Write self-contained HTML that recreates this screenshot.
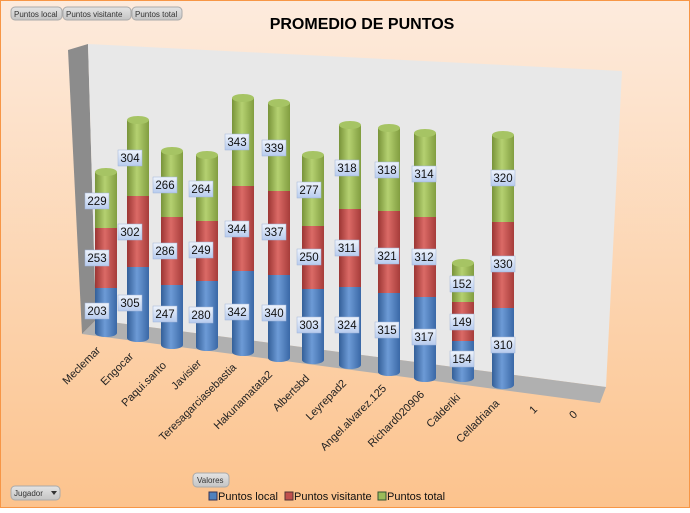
<!DOCTYPE html>
<html><head><meta charset="utf-8"><style>
body{margin:0;width:690px;height:508px;overflow:hidden;font-family:"Liberation Sans",sans-serif}
</style></head><body>
<svg width="690" height="508" xmlns="http://www.w3.org/2000/svg" font-family="Liberation Sans, sans-serif">
<defs>
<linearGradient id="bg" x1="0" y1="0" x2="0" y2="1"><stop offset="0" stop-color="#fdebdd"/><stop offset="1" stop-color="#fcc38d"/></linearGradient>
<linearGradient id="gb" x1="0" x2="1"><stop offset="0" stop-color="#335f98"/><stop offset=".45" stop-color="#6d9bd6"/><stop offset="1" stop-color="#3a68a6"/></linearGradient>
<linearGradient id="gr" x1="0" x2="1"><stop offset="0" stop-color="#9b3533"/><stop offset=".45" stop-color="#db6a66"/><stop offset="1" stop-color="#a63c3a"/></linearGradient>
<linearGradient id="gg" x1="0" x2="1"><stop offset="0" stop-color="#789339"/><stop offset=".45" stop-color="#b5d171"/><stop offset="1" stop-color="#819d40"/></linearGradient>
<linearGradient id="lb" x1="0" y1="0" x2="0" y2="1"><stop offset="0" stop-color="#eef3fb"/><stop offset="1" stop-color="#b7cbee"/></linearGradient>
<linearGradient id="btn" x1="0" y1="0" x2="0" y2="1"><stop offset="0" stop-color="#e4e4e4"/><stop offset="1" stop-color="#c4c4c4"/></linearGradient>
</defs>
<rect x="0.5" y="0.5" width="689" height="507" fill="url(#bg)" stroke="#f79646"/>
<g font-size="8" fill="#333">
<rect x="11" y="7" width="51" height="13" rx="4" fill="url(#btn)" stroke="#aaa"/><text x="14" y="17">Puntos local</text>
<rect x="63" y="7" width="68" height="13" rx="4" fill="url(#btn)" stroke="#aaa"/><text x="66" y="17">Puntos visitante</text>
<rect x="132" y="7" width="50" height="13" rx="4" fill="url(#btn)" stroke="#aaa"/><text x="135" y="17">Puntos total</text>
<rect x="193" y="473" width="36" height="14" rx="4" fill="url(#btn)" stroke="#aaa"/><text x="197" y="483">Valores</text>
<rect x="11" y="486" width="49" height="14" rx="4" fill="url(#btn)" stroke="#aaa"/><text x="14" y="496">Jugador</text>
<path d="M51 491 L57 491 L54 495Z" fill="#333"/>
</g>
<text x="362" y="29" font-size="16" font-weight="bold" text-anchor="middle" fill="#000">PROMEDIO DE PUNTOS</text>
<polygon points="68,50 88,44 96,320 82,334" fill="#8c8c8c"/>
<polygon points="88,44 622,71 606,387 96,320" fill="#e8e8e8"/>
<polygon points="82,334 96,320 606,387 600,403" fill="#b0b0b0"/>
<g>
<rect x="95" y="172" width="22" height="56" fill="url(#gg)"/><rect x="95" y="228" width="22" height="60" fill="url(#gr)"/><rect x="95" y="288" width="22" height="45" fill="url(#gb)"/><ellipse cx="106" cy="333" rx="11" ry="4" fill="url(#gb)"/><ellipse cx="106" cy="172" rx="11" ry="4" fill="#a6c464"/>
<rect x="127" y="120" width="22" height="76" fill="url(#gg)"/><rect x="127" y="196" width="22" height="71" fill="url(#gr)"/><rect x="127" y="267" width="22" height="71" fill="url(#gb)"/><ellipse cx="138" cy="338" rx="11" ry="4" fill="url(#gb)"/><ellipse cx="138" cy="120" rx="11" ry="4" fill="#a6c464"/>
<rect x="161" y="151" width="22" height="66" fill="url(#gg)"/><rect x="161" y="217" width="22" height="68" fill="url(#gr)"/><rect x="161" y="285" width="22" height="60" fill="url(#gb)"/><ellipse cx="172" cy="345" rx="11" ry="4" fill="url(#gb)"/><ellipse cx="172" cy="151" rx="11" ry="4" fill="#a6c464"/>
<rect x="196" y="155" width="22" height="66" fill="url(#gg)"/><rect x="196" y="221" width="22" height="60" fill="url(#gr)"/><rect x="196" y="281" width="22" height="66" fill="url(#gb)"/><ellipse cx="207" cy="347" rx="11" ry="4" fill="url(#gb)"/><ellipse cx="207" cy="155" rx="11" ry="4" fill="#a6c464"/>
<rect x="232" y="98" width="22" height="88" fill="url(#gg)"/><rect x="232" y="186" width="22" height="85" fill="url(#gr)"/><rect x="232" y="271" width="22" height="81" fill="url(#gb)"/><ellipse cx="243" cy="352" rx="11" ry="4" fill="url(#gb)"/><ellipse cx="243" cy="98" rx="11" ry="4" fill="#a6c464"/>
<rect x="268" y="103" width="22" height="88" fill="url(#gg)"/><rect x="268" y="191" width="22" height="84" fill="url(#gr)"/><rect x="268" y="275" width="22" height="83" fill="url(#gb)"/><ellipse cx="279" cy="358" rx="11" ry="4" fill="url(#gb)"/><ellipse cx="279" cy="103" rx="11" ry="4" fill="#a6c464"/>
<rect x="302" y="155" width="22" height="71" fill="url(#gg)"/><rect x="302" y="226" width="22" height="63" fill="url(#gr)"/><rect x="302" y="289" width="22" height="71" fill="url(#gb)"/><ellipse cx="313" cy="360" rx="11" ry="4" fill="url(#gb)"/><ellipse cx="313" cy="155" rx="11" ry="4" fill="#a6c464"/>
<rect x="339" y="125" width="22" height="84" fill="url(#gg)"/><rect x="339" y="209" width="22" height="78" fill="url(#gr)"/><rect x="339" y="287" width="22" height="78" fill="url(#gb)"/><ellipse cx="350" cy="365" rx="11" ry="4" fill="url(#gb)"/><ellipse cx="350" cy="125" rx="11" ry="4" fill="#a6c464"/>
<rect x="378" y="128" width="22" height="83" fill="url(#gg)"/><rect x="378" y="211" width="22" height="82" fill="url(#gr)"/><rect x="378" y="293" width="22" height="79" fill="url(#gb)"/><ellipse cx="389" cy="372" rx="11" ry="4" fill="url(#gb)"/><ellipse cx="389" cy="128" rx="11" ry="4" fill="#a6c464"/>
<rect x="414" y="133" width="22" height="84" fill="url(#gg)"/><rect x="414" y="217" width="22" height="80" fill="url(#gr)"/><rect x="414" y="297" width="22" height="81" fill="url(#gb)"/><ellipse cx="425" cy="378" rx="11" ry="4" fill="url(#gb)"/><ellipse cx="425" cy="133" rx="11" ry="4" fill="#a6c464"/>
<rect x="452" y="263" width="22" height="39" fill="url(#gg)"/><rect x="452" y="302" width="22" height="39" fill="url(#gr)"/><rect x="452" y="341" width="22" height="37" fill="url(#gb)"/><ellipse cx="463" cy="378" rx="11" ry="4" fill="url(#gb)"/><ellipse cx="463" cy="263" rx="11" ry="4" fill="#a6c464"/>
<rect x="492" y="135" width="22" height="87" fill="url(#gg)"/><rect x="492" y="222" width="22" height="86" fill="url(#gr)"/><rect x="492" y="308" width="22" height="77" fill="url(#gb)"/><ellipse cx="503" cy="385" rx="11" ry="4" fill="url(#gb)"/><ellipse cx="503" cy="135" rx="11" ry="4" fill="#a6c464"/>
</g>
<g font-size="11.5" text-anchor="middle" fill="#111">
<g fill="url(#lb)" stroke="#9fb4d8" stroke-width=".5">
<rect x="85" y="193" width="24" height="16"/><rect x="85" y="250" width="24" height="16"/><rect x="85" y="303" width="24" height="16"/>
<rect x="118" y="150" width="24" height="16"/><rect x="118" y="224" width="24" height="16"/><rect x="118" y="295" width="24" height="16"/>
<rect x="153" y="177" width="24" height="16"/><rect x="153" y="243" width="24" height="16"/><rect x="153" y="306" width="24" height="16"/>
<rect x="189" y="181" width="24" height="16"/><rect x="189" y="242" width="24" height="16"/><rect x="189" y="307" width="24" height="16"/>
<rect x="225" y="134" width="24" height="16"/><rect x="225" y="221" width="24" height="16"/><rect x="225" y="304" width="24" height="16"/>
<rect x="262" y="140" width="24" height="16"/><rect x="262" y="224" width="24" height="16"/><rect x="262" y="305" width="24" height="16"/>
<rect x="297" y="182" width="24" height="16"/><rect x="297" y="249" width="24" height="16"/><rect x="297" y="317" width="24" height="16"/>
<rect x="335" y="160" width="24" height="16"/><rect x="335" y="240" width="24" height="16"/><rect x="335" y="317" width="24" height="16"/>
<rect x="375" y="162" width="24" height="16"/><rect x="375" y="248" width="24" height="16"/><rect x="375" y="322" width="24" height="16"/>
<rect x="412" y="166" width="24" height="16"/><rect x="412" y="249" width="24" height="16"/><rect x="412" y="329" width="24" height="16"/>
<rect x="450" y="276" width="24" height="16"/><rect x="450" y="314" width="24" height="16"/><rect x="450" y="351" width="24" height="16"/>
<rect x="491" y="170" width="24" height="16"/><rect x="491" y="256" width="24" height="16"/><rect x="491" y="337" width="24" height="16"/>
</g>
<text x="97" y="205">229</text><text x="97" y="262">253</text><text x="97" y="315">203</text>
<text x="130" y="162">304</text><text x="130" y="236">302</text><text x="130" y="307">305</text>
<text x="165" y="189">266</text><text x="165" y="255">286</text><text x="165" y="318">247</text>
<text x="201" y="193">264</text><text x="201" y="254">249</text><text x="201" y="319">280</text>
<text x="237" y="146">343</text><text x="237" y="233">344</text><text x="237" y="316">342</text>
<text x="274" y="152">339</text><text x="274" y="236">337</text><text x="274" y="317">340</text>
<text x="309" y="194">277</text><text x="309" y="261">250</text><text x="309" y="329">303</text>
<text x="347" y="172">318</text><text x="347" y="252">311</text><text x="347" y="329">324</text>
<text x="387" y="174">318</text><text x="387" y="260">321</text><text x="387" y="334">315</text>
<text x="424" y="178">314</text><text x="424" y="261">312</text><text x="424" y="341">317</text>
<text x="462" y="288">152</text><text x="462" y="326">149</text><text x="462" y="363">154</text>
<text x="503" y="182">320</text><text x="503" y="268">330</text><text x="503" y="349">310</text>
</g>
<g font-size="11" fill="#222" text-anchor="end">
<text transform="translate(101,351) rotate(-45)">Meclemar</text>
<text transform="translate(134,357) rotate(-45)">Engocar</text>
<text transform="translate(167,366) rotate(-45)">Paqui.santo</text>
<text transform="translate(202,364) rotate(-45)">Javisier</text>
<text transform="translate(237,368) rotate(-45)">Teresagarciasebastia</text>
<text transform="translate(273,375) rotate(-45)">Hakunamatata2</text>
<text transform="translate(310,379) rotate(-45)">Albertsbd</text>
<text transform="translate(347,384) rotate(-45)">Leyrepad2</text>
<text transform="translate(387,389) rotate(-45)">Angel.alvarez.125</text>
<text transform="translate(425,395) rotate(-45)">Richard020906</text>
<text transform="translate(461,398) rotate(-45)">Calderiki</text>
<text transform="translate(500,404) rotate(-45)">Celladriana</text>
<text transform="translate(538,410) rotate(-45)">1</text>
<text transform="translate(578,415) rotate(-45)">0</text>
</g>
<g font-size="11" fill="#111">
<rect x="209" y="492" width="8" height="8" fill="#4f81bd" stroke="#335"/><text x="218" y="500">Puntos local</text>
<rect x="285" y="492" width="8" height="8" fill="#c0504d" stroke="#533"/><text x="294" y="500">Puntos visitante</text>
<rect x="378" y="492" width="8" height="8" fill="#9bbb59" stroke="#353"/><text x="387" y="500">Puntos total</text>
</g>
</svg>
</body></html>
